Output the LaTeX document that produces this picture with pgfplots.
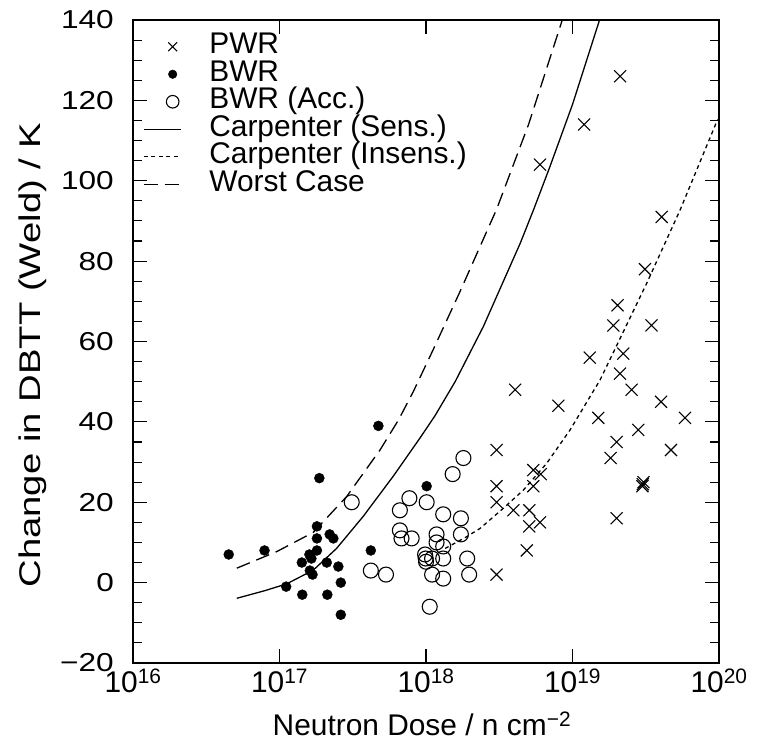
\documentclass[border=0pt]{standalone}
\usepackage{fontspec}
\setmainfont{Liberation Sans}
\newfontfamily\ytickfont[FakeStretch=1.22]{Liberation Sans}
\newfontfamily\ylabfont[FakeStretch=1.28]{Liberation Sans}
\usepackage{pgfplots}
\pgfplotsset{compat=1.18}
\pgfplotsset{markleg/.style={legend image code/.code={\draw[##1, mark size=#1] plot coordinates {(29bp,0bp)};}}}
\begin{document}
\begin{tikzpicture}
\begin{axis}[
  name=ax,
  xmode=log, log basis x=10,
  scale only axis, width=586bp, height=643bp,
  xmin=1e16, xmax=1e20, ymin=-20, ymax=140,
  xtick={1e16,1e17,1e18,1e19,1e20},
  xticklabels={10\textsuperscript{16},10\textsuperscript{17},10\textsuperscript{18},10\textsuperscript{19},10\textsuperscript{20}},
  ytick={-20,0,20,40,60,80,100,120,140},
  yticklabels={−20,0,20,40,60,80,100,120,140},
  minor y tick num=3,
  major tick length=14bp, minor tick length=9bp,
  tick align=inside,
  axis line style={line width=1.3bp},
  every tick/.style={line width=1.1bp, black},
  xticklabel style={font=\fontsize{30}{30}\selectfont, inner sep=0pt, anchor=north, yshift=-6bp},
  yticklabel style={font=\fontsize{26}{26}\ytickfont, inner sep=0pt, anchor=east, xshift=-19bp},
  xlabel={Neutron Dose / n cm\textsuperscript{−2}},
  ylabel={\ylabfont Change in DBTT (Weld) / K},
  xlabel style={font=\fontsize{30}{30}\selectfont, at={(axis description cs:0.493,-0.1135)}, anchor=base},
  ylabel style={font=\fontsize{30}{30}\selectfont, at={(axis description cs:-0.1587,0.479)}, anchor=base, rotate=0},
  legend style={at={(axis description cs:0,1)}, anchor=north west, draw=none, fill=none,
    inner sep=0pt, outer sep=0pt, xshift=10bp, yshift=-13bp,
    font=\fontsize{30}{30}\selectfont,
    nodes={inner sep=0pt, outer sep=0pt, text height=21bp, text depth=6.5bp},
    /tikz/every odd column/.append style={column sep=28bp}},
  legend cell align=left,
  legend image code/.code={\draw[mark repeat=2,mark phase=2,#1] plot coordinates {(0bp,0bp) (18.5bp,0bp) (37bp,0bp)};},
]
% PWR
\addplot[only marks, mark=x, mark size=8.5bp, mark options={line width=1.1bp}, markleg=6.3bp] table {
x y
3.03e18 33
3.03e18 24
3.03e18 20
3.03e18 2
3.95e18 18
4.06e18 48
4.87e18 8
5.07e18 18
5.07e18 14
5.4e18 28
5.4e18 24
6.07e18 27
6.0e18 15
8.0e18 44
6.0e18 104
1.2e19 114
1.31e19 56
1.5e19 41
1.82e19 31
2.0e19 35
2.0e19 16
2.11e19 52
2.22e19 57
2.03e19 69
1.9e19 64
2.11e19 126
2.53e19 48
2.81e19 38
3.0e19 24
3.05e19 25
3.02e19 24.5
3.12e19 78
3.46e19 64
4.02e19 45
4.06e19 91
4.7e19 33
5.86e19 41
};
\addlegendentry{PWR}
% BWR filled
\addplot[only marks, mark=*, mark size=5bp, mark options={fill=black}, markleg=4.3bp] table {
x y
4.5e16 7
7.9e16 8
1.11e17 -1
1.43e17 -3
1.42e17 5
1.6e17 7
1.68e17 2
1.65e17 6
1.61e17 3
1.8e17 14
1.8e17 11
1.8e17 8
1.87e17 26
2.1e17 5
2.2e17 12
2.33e17 11
2.12e17 -3
2.52e17 4
2.62e17 0
2.62e17 -8
4.2e17 8
4.73e17 39
1.01e18 24
};
\addlegendentry{BWR}
% BWR (Acc.)
\addplot[only marks, mark=o, mark size=7.5bp, mark options={line width=1.1bp}, markleg=6.3bp] table {
x y
3.11e17 20
4.2e17 3
5.33e17 2
6.63e17 18
7.7e17 21
6.63e17 13
6.8e17 11
7.98e17 11
1.01e18 20
1.31e18 17
1.73e18 16
1.73e18 12
1.18e18 12
1.18e18 10
1.31e18 9
9.85e17 7
9.95e17 6
1.0e18 5.2
1.1e18 6
1.31e18 6
1.1e18 2
1.31e18 1
1.91e18 6
1.97e18 2
1.06e18 -6
1.52e18 27
1.8e18 31
};
\addlegendentry{BWR (Acc.)}
% Carpenter (Sens.)
\addplot[no marks, line width=1.3bp] table {
x y
5.11e16 -3.9
7.94e16 -2.0
1.12e17 -0.3
1.70e17 3.1
2.45e17 8.5
3.73e17 16.5
5.98e17 26.5
9.10e17 36
1.15e18 41.5
1.58e18 50
2.46e18 63.7
4.39e18 84.4
5.41e18 92.7
7.01e18 103.5
1.0e19 119
1.56e19 141
};
\addlegendentry{Carpenter (Sens.)}
% Carpenter (Insens.)
\addplot[no marks, line width=1.3bp, dash pattern=on 4bp off 3.5bp] table {
x y
1.35e18 8.5
1.89e18 11.4
2.34e18 13.5
3.37e18 18.5
4.61e18 23
6.67e18 29.7
9.62e18 38
1.54e19 50.4
3.21e19 74.5
5.42e19 92.7
9.64e19 114.7
1.0e20 115.5
};
\addlegendentry{Carpenter (Insens.)}
% Worst case
\addplot[no marks, line width=1.3bp, dash pattern=on 14bp off 7bp] table {
x y
5.11e16 3.6
9.55e16 7.7
1.70e17 12.5
2.87e17 21.4
4.85e17 33
6.47e17 40.4
8.18e17 47.5
1.12e18 58
1.71e18 72.5
3.04e18 93
5.01e18 114
8.51e18 140
};
\addlegendentry{Worst Case}
\end{axis}
\pgfresetboundingbox
\path ([xshift=-133bp,yshift=-79bp]ax.south west) rectangle ([xshift=42bp,yshift=20bp]ax.north east);
\end{tikzpicture}
\end{document}
